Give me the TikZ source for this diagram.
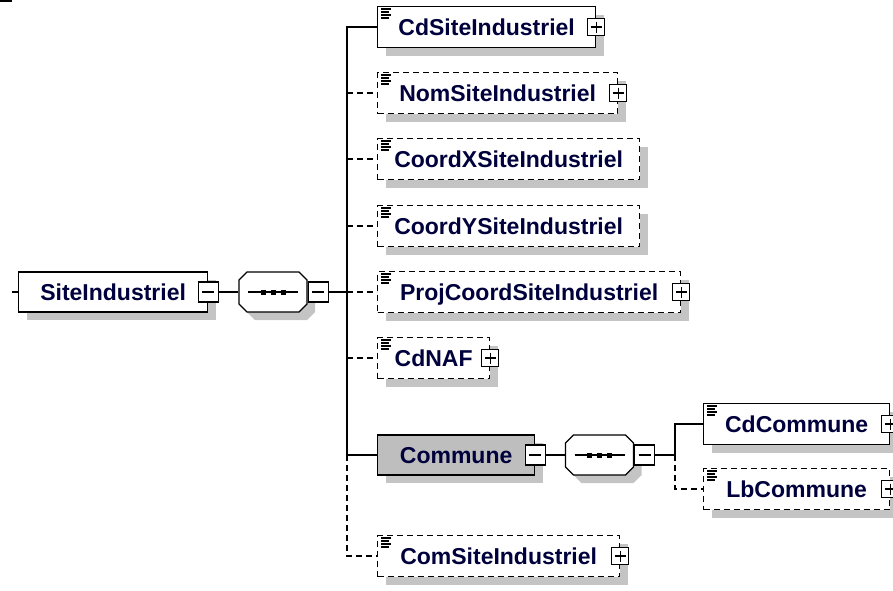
\documentclass[tikz,border=0pt]{standalone}
\usepackage{fontspec}
\setmainfont{Liberation Sans}
\usepackage{tikz}
\usetikzlibrary{positioning}
\usetikzlibrary{shadows}
\definecolor{boxgray}{RGB}{190,190,190}
\definecolor{shadegray}{RGB}{196,196,196}
\definecolor{nametext}{RGB}{0,0,60}
\tikzset{
  shade8/.style={drop shadow={shadow xshift=8pt,shadow yshift=-8pt,fill=shadegray,opacity=1}},
  elem/.style={draw, fill=white, anchor=west, minimum height=41pt, inner sep=0pt,
    text height=16.5pt, text depth=0pt, text=nametext,
    font=\fontsize{23}{27}\selectfont\bfseries, shade8},
  cplx/.style={elem, minimum height=40pt},
  opt/.style={dash pattern=on 6pt off 4pt},
  plusbox/.style={draw, solid, fill=white, line width=1.1pt, minimum size=17pt, inner sep=0pt,
    path picture={\draw[solid,line width=1.1pt]
      ([xshift=3pt]path picture bounding box.west) -- ([xshift=-3pt]path picture bounding box.east)
      ([yshift=-3pt]path picture bounding box.north) -- ([yshift=3pt]path picture bounding box.south);}},
  minusbox/.style={draw, solid, fill=white, line width=1.1pt, minimum size=20pt, inner sep=0pt,
    path picture={\draw[solid,line width=1.1pt]
      ([xshift=4pt]path picture bounding box.west) -- ([xshift=-4pt]path picture bounding box.east);}},
  seqbox/.style={rectangle, minimum width=68pt, minimum height=40pt, inner sep=0pt}
}
% small "documentation" mark in the corner of an element
\newcommand{\docmark}[1]{%
  \draw[line width=1.3pt, solid, shift={(#1.north west)}]
    (4,3) -- ++(10,0) (4,6) -- ++(8,0) (4,9) -- ++(10,0) (4,12) -- ++(8,0);}
% octagon of a sequence compositor, drawn over its (empty) node
\newcommand{\seqmark}[1]{%
  \fill[shadegray, shift={(#1.center)}, shift={(8,8)}]
    (-26,-20) -- (26,-20) -- (34,-12) -- (34,12) -- (26,20) -- (-26,20) -- (-34,12) -- (-34,-12) -- cycle;
  \draw[fill=white, shift={(#1.center)}]
    (-26,-20) -- (26,-20) -- (34,-12) -- (34,12) -- (26,20) -- (-26,20) -- (-34,12) -- (-34,-12) -- cycle;
  \draw[line width=1.1pt, shift={(#1.center)}] (-25,0) -- (25,0);
  \foreach \dx in {-10,0,10}
    \fill[shift={(#1.center)}] (\dx-2.5,-2.5) rectangle (\dx+2.5,2.5);}

\begin{document}
\begin{tikzpicture}[x=1pt, y=-1pt, line width=1.3pt]
\useasboundingbox (0,0) rectangle (893,590);

% cut-off line in the corner
\draw (0,1) -- (12,1);

% Root element
\coordinate (in) at (12,292);
\node[cplx, minimum width=189pt] (site) at (18,292) {SiteIndustriel};
\node[minusbox] (site-m) at (site.east) {};
\draw (in) -- (site);

% Sequence
\node[seqbox] (seq) at (273,292) {};
\seqmark{seq}
\node[minusbox, anchor=west] (seq-m) at (seq.east) {};
\draw (site-m) -- (seq);
\coordinate (bus) at (347,292);
\draw (seq-m) -- (bus);

% Children
\node[elem, minimum width=218pt] (cdsite) at (377,27) {CdSiteIndustriel};
\node[plusbox] (cdsite-p) at (cdsite.east) {};
\docmark{cdsite}

\node[elem, opt, minimum width=240pt] (nomsite) at (377,93) {NomSiteIndustriel};
\node[plusbox] (nomsite-p) at (nomsite.east) {};
\docmark{nomsite}

\node[elem, opt, minimum width=262pt] (coordx) at (377,159) {CoordXSiteIndustriel};
\docmark{coordx}

\node[elem, opt, minimum width=262pt] (coordy) at (377,226) {CoordYSiteIndustriel};
\docmark{coordy}

\node[elem, opt, minimum width=303pt] (projcoord) at (377,292) {ProjCoordSiteIndustriel};
\node[plusbox] (projcoord-p) at (projcoord.east) {};
\docmark{projcoord}

\node[elem, opt, minimum width=112pt] (cdnaf) at (377,358) {CdNAF};
\node[plusbox] (cdnaf-p) at (cdnaf.east) {};
\docmark{cdnaf}

\node[cplx, fill=boxgray, minimum width=157pt] (commune) at (377,455) {Commune};
\node[minusbox] (commune-m) at (commune.east) {};

\node[elem, opt, minimum width=242pt] (comsite) at (377,556) {ComSiteIndustriel};
\node[plusbox] (comsite-p) at (comsite.east) {};
\docmark{comsite}

\draw (cdsite.west) -- (cdsite.west -| bus) -- (commune.west -| bus) -- (commune.west);
\draw[opt] (commune.west -| bus) -- (comsite.west -| bus) -- (comsite.west);
\foreach \n in {nomsite,coordx,coordy,projcoord,cdnaf}
  \draw[opt] (\n.west -| bus) -- (\n.west);

% Commune content
\node[seqbox] (subseq) at (599.5,455) {};
\seqmark{subseq}
\node[minusbox, anchor=west] (subseq-m) at (subseq.east) {};
\draw (commune-m) -- (subseq);
\coordinate (subbus) at (675,455);
\draw (subseq-m) -- (subbus);

\node[elem, minimum width=186pt] (cdcom) at (703,424) {CdCommune};
\node[plusbox] (cdcom-p) at (cdcom.east) {};
\docmark{cdcom}

\node[elem, opt, minimum width=186pt] (lbcom) at (703,489) {LbCommune};
\node[plusbox] (lbcom-p) at (lbcom.east) {};
\docmark{lbcom}

\draw (cdcom.west) -- (cdcom.west -| subbus) -- (subbus);
\draw[opt] (subbus) -- (lbcom.west -| subbus) -- (lbcom.west);

\end{tikzpicture}
\end{document}
